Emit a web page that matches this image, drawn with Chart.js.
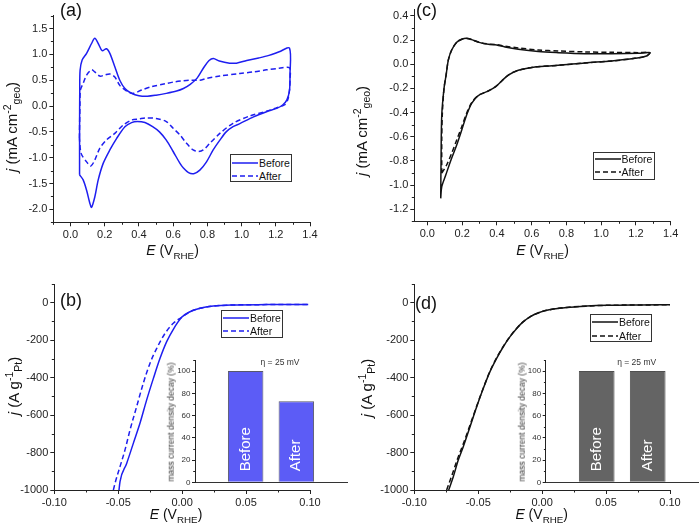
<!DOCTYPE html>
<html><head><meta charset="utf-8">
<script src="https://cdn.jsdelivr.net/npm/chart.js@4.4.1/dist/chart.umd.min.js"></script>
<style>
html,body{margin:0;padding:0;background:#fff;}
#wrap{position:relative;width:700px;height:529px;overflow:hidden;font-family:"Liberation Sans",Arial,sans-serif;background:#fff;}
canvas{position:absolute;}
.t{position:absolute;white-space:nowrap;color:#111;line-height:1;}
.rot{transform:translate(-50%,-50%) rotate(-90deg);}
.ctr{transform:translate(-50%,-50%);}
.lab{position:absolute;font-size:18px;color:#111;line-height:1;}
.lg{position:absolute;border:1px solid #333;background:#fff;box-sizing:border-box;}
.lg div{position:absolute;font-size:10.5px;line-height:1;transform:translateY(-50%);color:#111;}
.lg svg{position:absolute;}
sub{font-size:70%;vertical-align:-0.35em;}
sup{font-size:70%;vertical-align:0.55em;}
</style></head><body><div id="wrap">
<canvas id="cvA"></canvas><canvas id="cvC"></canvas><canvas id="herB"></canvas><canvas id="herD"></canvas>
<canvas id="insB"></canvas><canvas id="insD"></canvas>
</div>
<script>
// ---------- data ----------
const seriesNames = ['Before', 'After'];
// (a) CV, blue catalyst
const aBeforeE = [0.053,0.053,0.054,0.056,0.068,0.094,0.123,0.142,0.162,0.185,0.21,0.23,0.259,0.288,0.318,0.357,0.40,0.45,0.50,0.56,0.62,0.66,0.70,0.74,0.78,0.81,0.835,0.87,0.93,0.97,1.03,1.10,1.16,1.22,1.28,1.283,1.28,1.265,1.24,1.205,1.146,1.07,0.99,0.95,0.91,0.873,0.834,0.795,0.756,0.72,0.69,0.66,0.64,0.60,0.56,0.52,0.48,0.435,0.39,0.357,0.318,0.269,0.23,0.191,0.162,0.142,0.123,0.113,0.094,0.074,0.053];
const aBeforeJ = [-1.33,-0.5,0.3,0.69,0.89,1.02,1.21,1.31,1.21,1.07,1.11,1.02,0.76,0.50,0.34,0.245,0.20,0.19,0.21,0.245,0.29,0.34,0.42,0.54,0.75,0.88,0.92,0.87,0.83,0.83,0.88,0.93,0.98,1.05,1.12,0.6,0.3,0.12,0.02,-0.045,-0.11,-0.21,-0.34,-0.40,-0.50,-0.66,-0.85,-1.08,-1.24,-1.31,-1.29,-1.20,-1.11,-0.88,-0.66,-0.50,-0.40,-0.32,-0.30,-0.32,-0.40,-0.63,-0.85,-1.11,-1.43,-1.76,-1.96,-1.88,-1.63,-1.43,-1.33];
const aAfterE = [0.052,0.055,0.058,0.074,0.094,0.123,0.142,0.171,0.20,0.23,0.259,0.288,0.328,0.367,0.415,0.474,0.552,0.611,0.66,0.70,0.756,0.795,0.873,0.99,1.07,1.146,1.22,1.28,1.283,1.28,1.27,1.25,1.20,1.146,1.05,0.95,0.873,0.815,0.776,0.747,0.717,0.678,0.64,0.60,0.56,0.50,0.44,0.40,0.357,0.308,0.259,0.21,0.171,0.142,0.119,0.094,0.062,0.052];
const aAfterJ = [-0.62,0.0,0.31,0.44,0.60,0.70,0.66,0.58,0.60,0.62,0.56,0.40,0.29,0.245,0.31,0.375,0.43,0.47,0.49,0.50,0.50,0.535,0.58,0.63,0.66,0.70,0.73,0.74,0.5,0.3,0.12,0.02,-0.04,-0.10,-0.19,-0.335,-0.53,-0.72,-0.85,-0.88,-0.85,-0.72,-0.56,-0.43,-0.30,-0.24,-0.23,-0.25,-0.271,-0.368,-0.529,-0.658,-0.819,-1.045,-1.16,-1.08,-0.916,-0.62];
// (c) CV, black catalyst
const cBeforeE = [0.077,0.079,0.083,0.096,0.108,0.121,0.140,0.169,0.198,0.226,0.255,0.303,0.351,0.399,0.447,0.523,0.638,0.753,0.907,1.060,1.214,1.280,1.261,1.194,1.060,0.907,0.753,0.619,0.523,0.466,0.428,0.393,0.351,0.293,0.255,0.226,0.198,0.169,0.136,0.106,0.083,0.077];
const cBeforeJ = [-1.11,-0.778,-0.42,-0.199,-0.089,0.036,0.118,0.182,0.207,0.215,0.204,0.179,0.165,0.160,0.143,0.124,0.105,0.096,0.088,0.088,0.091,0.096,0.069,0.049,0.027,0.011,-0.009,-0.022,-0.050,-0.089,-0.138,-0.185,-0.221,-0.260,-0.323,-0.420,-0.544,-0.668,-0.792,-0.917,-1.013,-1.11];
const cAfterE = [0.083,0.083,0.086,0.096,0.108,0.121,0.140,0.169,0.198,0.226,0.255,0.303,0.351,0.399,0.447,0.523,0.638,0.753,0.907,1.060,1.214,1.280,1.261,1.194,1.060,0.907,0.753,0.619,0.523,0.466,0.428,0.393,0.351,0.293,0.255,0.226,0.198,0.169,0.140,0.111,0.083];
const cAfterJ = [-0.902,-0.613,-0.42,-0.199,-0.089,0.036,0.118,0.182,0.207,0.213,0.204,0.180,0.167,0.162,0.150,0.135,0.118,0.110,0.102,0.099,0.096,0.096,0.069,0.049,0.027,0.011,-0.009,-0.022,-0.050,-0.089,-0.138,-0.185,-0.221,-0.258,-0.318,-0.406,-0.517,-0.627,-0.737,-0.834,-0.902];
// (b) HER polarisation, blue catalyst
const bBeforeE = [-0.0494,-0.0486,-0.0434,-0.0382,-0.0330,-0.0278,-0.0225,-0.0173,-0.0121,-0.0069,-0.0004,0.0061,0.0139,0.0243,0.0400,0.0660,0.0986];
const bBeforeJ = [-1000,-955,-858,-751,-644,-520,-404,-297,-208,-142,-78,-48,-30,-18,-12,-10,-9];
const bAfterE = [-0.0538,-0.0525,-0.0486,-0.0447,-0.0408,-0.0356,-0.0304,-0.0252,-0.0199,-0.0134,-0.0069,-0.0004,0.0061,0.0139,0.0243,0.0400,0.0660,0.0986];
const bAfterJ = [-1000,-964,-875,-786,-680,-555,-430,-324,-244,-164,-110,-78,-48,-30,-18,-12,-10,-9];
// (d) HER polarisation, black catalyst
const dBeforeE = [-0.0731,-0.0695,-0.0656,-0.0617,-0.0564,-0.0512,-0.0460,-0.0408,-0.0356,-0.0304,-0.0251,-0.0199,-0.0147,-0.0095,-0.0017,0.0087,0.0192,0.0348,0.0505,0.0765,0.1000];
const dBeforeJ = [-1000,-929,-840,-769,-662,-555,-457,-368,-297,-235,-181,-137,-101,-75,-51,-34,-25,-18,-14,-12,-11];
const dAfterE = [-0.0747,-0.0705,-0.0660,-0.0615,-0.0565,-0.0512,-0.0460,-0.0408,-0.0356,-0.0304,-0.0251,-0.0199,-0.0147,-0.0095,-0.0017,0.0087,0.0192,0.0348,0.0505,0.0765,0.1000];
const dAfterJ = [-1000,-920,-830,-750,-655,-552,-455,-365,-294,-233,-180,-136,-101,-75,-51,-34,-25,-18,-14,-12,-11];
// insets: mass current density decay at eta = 25 mV
const insetCategories = ['Before', 'After'];
const insetB = [100, 73];
const insetD = [100, 100];
// tick values
const cvXTicks = [0,0.2,0.4,0.6,0.8,1.0,1.2,1.4];
const cvXMinorA = [-0.1,0.1,0.3,0.5,0.7,0.9,1.1,1.3];
const cvXMinorC = [0.1,0.3,0.5,0.7,0.9,1.1,1.3];
const aYTicks = [-2.0,-1.5,-1.0,-0.5,0.0,0.5,1.0,1.5];
const aYMinor = [-2.25,-1.75,-1.25,-0.75,-0.25,0.25,0.75,1.25,1.75];
const cYTicks = [-1.2,-1.0,-0.8,-0.6,-0.4,-0.2,0.0,0.2,0.4];
const cYMinor = [-1.3,-1.1,-0.9,-0.7,-0.5,-0.3,-0.1,0.1,0.3];
const herXTicks = [-0.10,-0.05,0.00,0.05,0.10];
const herXMinor = [-0.075,-0.025,0.025,0.075];
const herYTicks = [-1000,-800,-600,-400,-200,0];
const herYMinor = [-900,-700,-500,-300,-100,100];
const insetYTicks = [0,20,40,60,80,100];
const insetYMinor = [10,30,50,70,90,110];

// ---------- helpers ----------
const FONT = '"Liberation Sans", Arial, sans-serif';
const BLUE = 'rgb(30,30,240)';
const BLACK = '#111';
const pts = (E, J) => E.map((e, i) => ({x: e, y: J[i]}));

const minorTickPlugin = {
  id: 'minorTicks',
  afterDraw(chart, args, opts) {
    const ctx = chart.ctx, area = chart.chartArea, len = opts.len || 2.5;
    ctx.save(); ctx.strokeStyle = '#222'; ctx.lineWidth = 1; ctx.setLineDash([]); ctx.beginPath();
    for (const key of Object.keys(opts.scales || {})) {
      const s = chart.scales[key];
      for (const v of opts.scales[key]) {
        const p = Math.round(s.getPixelForValue(v)) + 0.5;
        if (s.isHorizontal()) { ctx.moveTo(p, area.bottom); ctx.lineTo(p, area.bottom + len); }
        else { ctx.moveTo(area.left, p); ctx.lineTo(area.left - len, p); }
      }
    }
    ctx.stroke(); ctx.restore();
  }
};

const barLabelPlugin = {
  id: 'barLabels',
  afterDatasetsDraw(chart, args, opts) {
    const ctx = chart.ctx, meta = chart.getDatasetMeta(0);
    ctx.save(); ctx.fillStyle = '#fff'; ctx.font = '15px ' + FONT;
    ctx.textAlign = 'left'; ctx.textBaseline = 'middle';
    meta.data.forEach((bar, i) => {
      ctx.save(); ctx.translate(bar.x, bar.base - 10.5); ctx.rotate(-Math.PI / 2);
      ctx.fillText(opts.labels[i], 0, 0); ctx.restore();
    });
    ctx.restore();
  }
};

function axis(a, isX, size) {
  return {
    type: 'linear', position: isX ? 'bottom' : 'left', min: a.min, max: a.max, offset: false,
    afterBuildTicks: s => { s.ticks = a.major.map(v => ({value: v})); },
    afterFit: s => { if (isX) s.height = size; else s.width = size; },
    ticks: {display: true, autoSkip: false, maxRotation: 0, minRotation: 0, padding: a.pad ?? 2,
      color: a.color || '#222', font: {family: FONT, size: a.fs || 11}, callback: v => a.fmt(v)},
    grid: {display: true, drawOnChartArea: false, drawTicks: true, offset: false, tickLength: a.tl || 4, tickColor: '#222', color: '#222'},
    border: {display: true, color: '#222', width: 1}
  };
}

function place(elId, g) {
  const el = document.getElementById(elId);
  el.width = g.w; el.height = g.h; el.style.left = g.l + 'px'; el.style.top = g.t + 'px';
  return el;
}

function lineChart(elId, g, sets, xa, ya) {
  return new Chart(place(elId, g), {
    type: 'scatter', data: {datasets: sets},
    options: {
      responsive: false, animation: false, devicePixelRatio: 1,
      layout: {padding: {left: 0, top: g.pt, right: g.pr, bottom: 0}},
      plugins: {legend: {display: false}, tooltip: {enabled: false},
        minorTicks: {scales: {x: xa.minor, y: ya.minor}, len: 2.5}},
      elements: {point: {radius: 0}},
      scales: {x: axis(xa, true, g.xh), y: axis(ya, false, g.yw)}
    },
    plugins: [minorTickPlugin]
  });
}

function series(label, data, color, dashed, extra) {
  return Object.assign({label, data, showLine: true, borderColor: color, backgroundColor: color,
    borderWidth: 1.5, borderDash: dashed ? [5, 3] : [], pointRadius: 0, fill: false}, extra || {});
}

const f1 = v => v.toFixed(1), f2 = v => v.toFixed(2), f0 = v => String(Math.round(v));
const cvLine = {tension: 0.3};
const herLine = {cubicInterpolationMode: 'monotone'};

// (a)
lineChart('cvA', {l: 0, t: 0, w: 330, h: 260, pt: 15.6, pr: 20, xh: 260 - 222.3, yw: 53.4}, [
  series(seriesNames[0], pts(aBeforeE, aBeforeJ), BLUE, false, cvLine),
  series(seriesNames[1], pts(aAfterE, aAfterJ), BLUE, true, cvLine)
], {min: -0.1, max: 1.4, major: cvXTicks, minor: cvXMinorA, fmt: f1},
   {min: -2.25, max: 1.75, major: aYTicks, minor: aYMinor, fmt: f1});

// (c)
lineChart('cvC', {l: 350, t: 0, w: 345, h: 260, pt: 9.9, pr: 24.3, xh: 260 - 221.3, yw: 64.3}, [
  series(seriesNames[0], pts(cBeforeE, cBeforeJ), BLACK, false, cvLine),
  series(seriesNames[1], pts(cAfterE, cAfterJ), BLACK, true, cvLine)
], {min: -0.075, max: 1.4, major: cvXTicks, minor: cvXMinorC, fmt: f1},
   {min: -1.3, max: 0.45, major: cYTicks, minor: cYMinor, fmt: f1});

// (b)
lineChart('herB', {l: 0, t: 270, w: 330, h: 259, pt: 14, pr: 20, xh: 259 - 220, yw: 54.3}, [
  series(seriesNames[0], pts(bBeforeE, bBeforeJ), BLUE, false, herLine),
  series(seriesNames[1], pts(bAfterE, bAfterJ), BLUE, true, herLine)
], {min: -0.1, max: 0.1, major: herXTicks, minor: herXMinor, fmt: f2},
   {min: -1000, max: 100, major: herYTicks, minor: herYMinor, fmt: f0});

// (d)
lineChart('herD', {l: 350, t: 270, w: 345, h: 259, pt: 14, pr: 25, xh: 259 - 220, yw: 64.3}, [
  series(seriesNames[0], pts(dBeforeE, dBeforeJ), BLACK, false, herLine),
  series(seriesNames[1], pts(dAfterE, dAfterJ), BLACK, true, herLine)
], {min: -0.1, max: 0.1, major: herXTicks, minor: herXMinor, fmt: f2},
   {min: -1000, max: 100, major: herYTicks, minor: herYMinor, fmt: f0});

// insets
function insetChart(elId, g, values, color, border) {
  return new Chart(place(elId, g), {
    type: 'bar',
    data: {datasets: [{label: 'decay', data: values.map((v, i) => ({x: i + 1, y: v})),
      backgroundColor: color, borderColor: border, borderWidth: 1,
      barPercentage: 0.7, categoryPercentage: 1}]},
    options: {
      responsive: false, animation: false, devicePixelRatio: 1,
      layout: {padding: {left: 0, top: g.pt, right: g.pr, bottom: 0}},
      plugins: {legend: {display: false}, tooltip: {enabled: false},
        minorTicks: {scales: {y: insetYMinor}, len: 1.8}, barLabels: {labels: insetCategories}},
      scales: {
        x: {type: 'linear', min: 0, max: insetCategories.length + 1, offset: false,
          afterBuildTicks: s => { s.ticks = [0, ...insetCategories.map((c, i) => i + 1), insetCategories.length + 1].map(v => ({value: v})); },
          afterFit: s => { s.height = g.xh; },
          ticks: {display: false}, grid: {display: false, offset: false}, border: {display: true, color: '#333', width: 1}},
        y: axis({min: 0, max: 110, major: insetYTicks, fmt: f0, fs: 8, pad: 1.5, tl: 3, color: '#333'}, false, g.yw)
      }
    },
    plugins: [minorTickPlugin, barLabelPlugin]
  });
}
insetChart('insB', {l: 160, t: 350, w: 190, h: 140, pt: 10, pr: 3, xh: 140 - 132.3, yw: 35}, insetB, 'rgb(92,92,246)', 'rgba(70,70,90,0.9)');
insetChart('insD', {l: 510, t: 350, w: 190, h: 140, pt: 10, pr: 1.3, xh: 140 - 132.3, yw: 35.7}, insetD, 'rgb(100,100,100)', 'rgba(60,60,60,0.9)');

// ---------- text overlays ----------
const wrap = document.getElementById('wrap');
function txt(html, x, y, size, cls, color) {
  const d = document.createElement('div');
  d.className = 't ' + (cls || 'ctr');
  d.style.left = x + 'px'; d.style.top = y + 'px'; d.style.fontSize = size + 'px';
  if (color) d.style.color = color;
  d.innerHTML = html; wrap.appendChild(d); return d;
}
const xTitle = '<i>E</i> (V<sub>RHE</sub>)';
const yTitleCV = '<i>j</i> (mA cm<sup>-2</sup><sub>geo</sub>)';
const yTitleHER = '<i>j</i> (A g<sup>-1</sup><sub>Pt</sub>)';
txt(xTitle, 172.5, 252, 14);
txt(xTitle, 542.5, 252, 14);
txt(xTitle, 176, 516, 14);
txt(xTitle, 541.7, 516, 14);
txt(yTitleCV, 12, 127, 15, 'rot');
txt(yTitleCV, 362, 131, 15, 'rot');
txt(yTitleHER, 13.5, 386, 15, 'rot');
txt(yTitleHER, 367, 388, 15, 'rot');
// panel labels
[['(a)', 60, 1], ['(c)', 416, 1], ['(b)', 60, 291], ['(d)', 415, 294]].forEach(([s, x, y]) => {
  const d = document.createElement('div'); d.className = 'lab'; d.style.left = x + 'px'; d.style.top = y + 'px';
  d.textContent = s; wrap.appendChild(d);
});
// inset texts
txt('&eta; = 25 mV', 280, 362, 8.5, 'ctr', '#333');
txt('&eta; = 25 mV', 636.7, 362, 8.5, 'ctr', '#333');
txt('mass current density decay (%)', 170.5, 421.5, 8.5, 'rot', '#333');
txt('mass current density decay (%)', 521.5, 421.5, 8.5, 'rot', '#333');
// legends
function legend(l, t, w, h, color, r1, r2) {
  const box = document.createElement('div'); box.className = 'lg';
  box.style.left = l + 'px'; box.style.top = t + 'px'; box.style.width = w + 'px'; box.style.height = h + 'px';
  [[r1, false], [r2, true]].forEach(([ry, dashed], i) => {
    const s = document.createElementNS('http://www.w3.org/2000/svg', 'svg');
    s.setAttribute('width', 26); s.setAttribute('height', 4);
    s.style.left = '1px'; s.style.top = (ry - 2) + 'px';
    s.innerHTML = '<line x1="0" y1="2" x2="26" y2="2" stroke="' + color + '" stroke-width="1.5"' + (dashed ? ' stroke-dasharray="5 3"' : '') + '/>';
    box.appendChild(s);
    const d = document.createElement('div'); d.textContent = seriesNames[i];
    d.style.left = '28px'; d.style.top = ry + 'px'; box.appendChild(d);
  });
  wrap.appendChild(box);
}
legend(230, 154, 62, 28, BLUE, 8, 21);
legend(592.5, 151.5, 62, 28, BLACK, 6, 19);
legend(221, 310, 62, 28, BLUE, 7, 20);
legend(590, 314, 62, 28, BLACK, 7, 20.5);
</script>
</body></html>
